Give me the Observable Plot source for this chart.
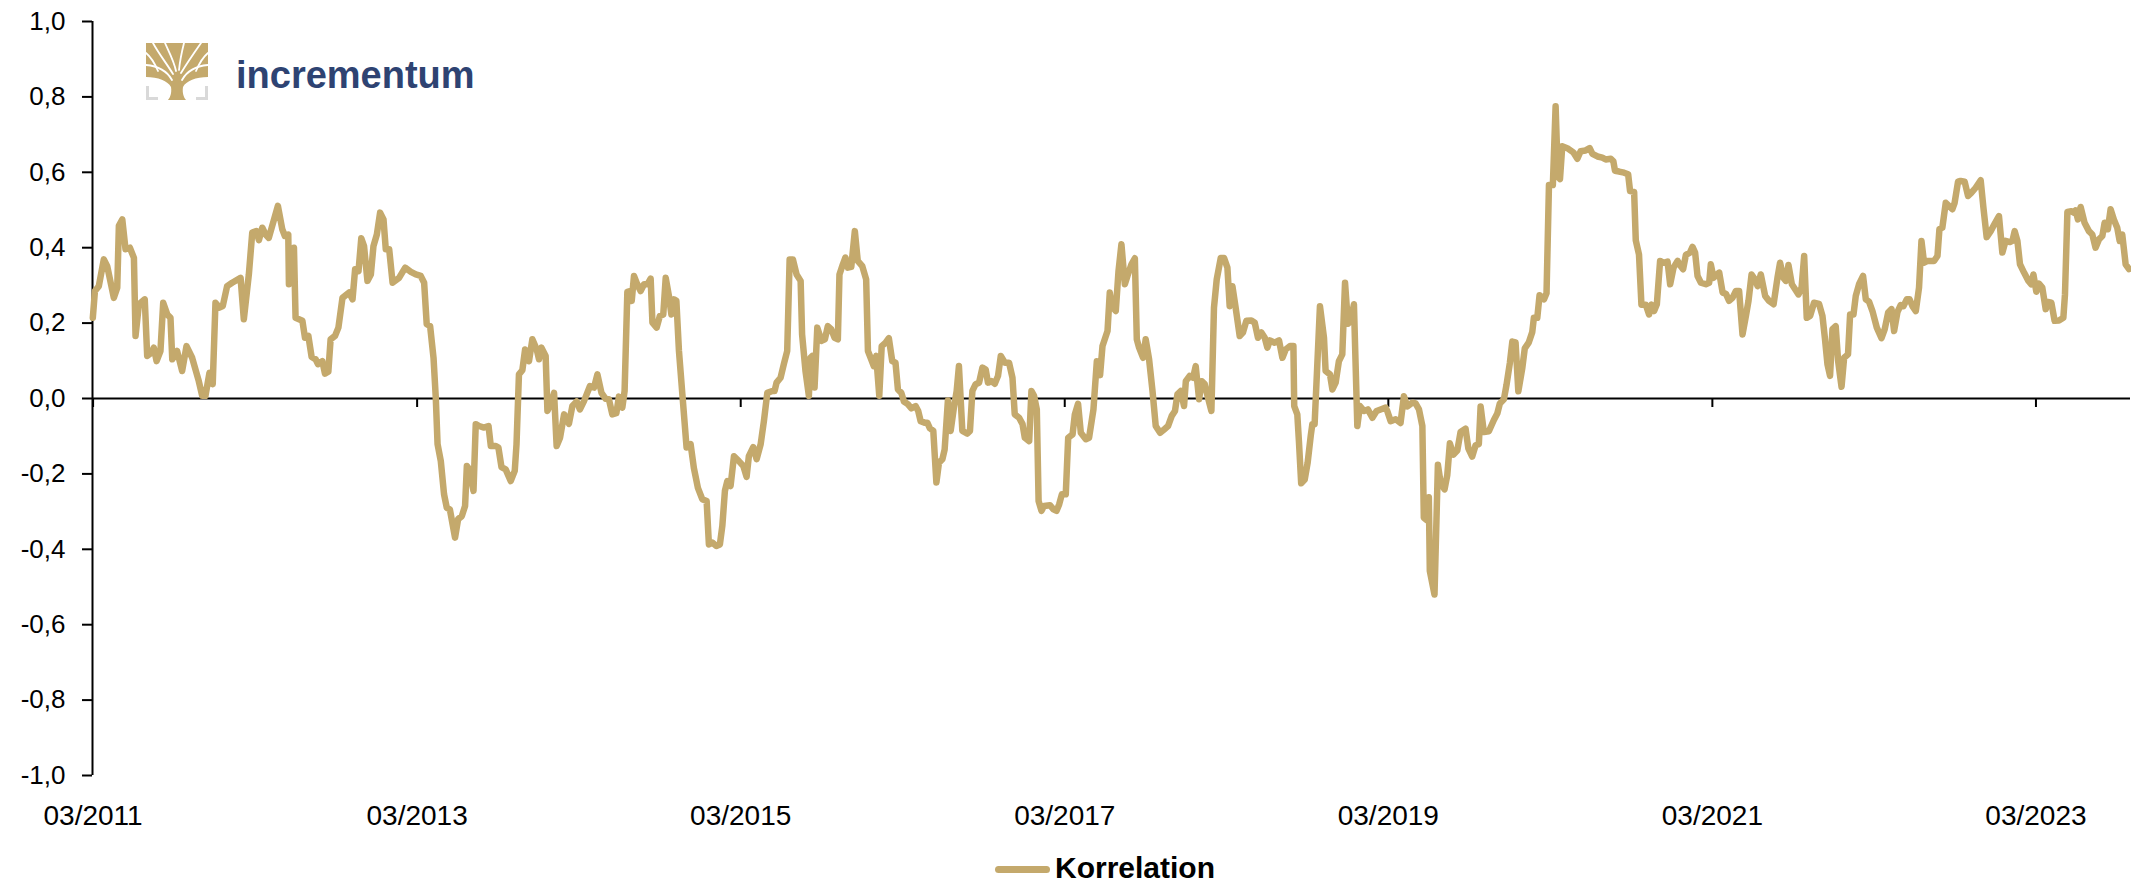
<!DOCTYPE html>
<html>
<head>
<meta charset="utf-8">
<script src="https://cdn.jsdelivr.net/npm/d3@7"></script>
<script src="https://cdn.jsdelivr.net/npm/@observablehq/plot@0.6"></script>
<style>
  body { margin: 0; background: #fff; font-family: "Liberation Sans", Arial, sans-serif; }
  #wrap { position: relative; width: 2131px; height: 884px; overflow: hidden; }
  #chart svg { display: block; }
  #legend { position: relative; width: 2131px; height: 39px; }
  #legend .swatch { position: absolute; left: 995px; top: 20.5px; width: 55px; height: 7px; border-radius: 3.5px; background: #C4A96C; }
  #legend .label { position: absolute; left: 1055px; top: 8px; font-size: 30px; line-height: 30px; font-weight: bold; color: #000; }
  #logo-icon { position: absolute; left: 146px; top: 43px; }
  #logo-text { position: absolute; left: 236px; top: 56px; font-size: 38px; line-height: 38px; font-weight: bold; color: #2E4372; }
</style>
</head>
<body>
<div id="wrap">
  <div id="chart"></div>
  <div id="legend"><div class="swatch"></div><div class="label" id="legend-label"></div></div>
  <svg id="logo-icon" width="62" height="57" viewBox="0 0 62 57">
    <path d="M0,0 H62 V34 C50,34 40,38 37,44 C36,50 38,55 40,57 H22 C24,55 26,50 25,44 C22,38 12,34 0,34 Z" fill="#C4A96C"/>
    <g fill="none" stroke="#fff" stroke-width="1.8" stroke-linecap="round">
      <path d="M26,37 C21,28 12,23 0,22"/>
      <path d="M27,31 C21,21 13,11 7,0"/>
      <path d="M30,28 C28,18 23,9 19,0"/>
      <path d="M33,27 C34,17 36,8 38,0"/>
      <path d="M35,30 C41,20 48,10 55,0"/>
      <path d="M36,37 C41,28 50,23 62,22"/>
      <path d="M12,28 C9,21 5,14 0,10"/>
      <path d="M50,28 C53,21 57,14 62,10"/>
    </g>
    <g fill="none" stroke="#D9D9D9" stroke-width="3">
      <path d="M1.5,43 V55.5 H12"/>
      <path d="M60.5,43 V55.5 H50"/>
    </g>
  </svg>
  <div id="logo-text">incrementum</div>
</div>
<script>
// ---- data ----
const seriesName = "Korrelation";
const lineColor = "#C4A96C";
const yTicks = [-1, -0.8, -0.6, -0.4, -0.2, 0, 0.2, 0.4, 0.6, 0.8, 1];
const xTickStrings = ["2011-03-01", "2013-03-01", "2015-03-01", "2017-03-01", "2019-03-01", "2021-03-01", "2023-03-01"];
const xDomainYears = [2011.158, 2023.746];

// decimal years
const years = [
2011.160,2011.173,2011.197,2011.228,2011.249,2011.290,2011.311,2011.321,2011.342,2011.362,2011.389,2011.414,2011.424,2011.445,2011.481,2011.496,2011.521,2011.537,2011.554,2011.578,
2011.595,2011.620,2011.640,2011.651,2011.681,2011.712,2011.739,2011.774,2011.815,2011.836,2011.856,2011.881,2011.901,2011.918,2011.943,2011.963,2011.990,2012.021,2012.073,2012.093,
2012.124,2012.145,2012.170,2012.186,2012.207,2012.227,2012.247,2012.303,2012.330,2012.346,2012.367,2012.371,2012.402,2012.412,2012.454,2012.470,2012.491,2012.511,2012.536,2012.550,
2012.577,2012.593,2012.614,2012.628,2012.655,2012.676,2012.701,2012.742,2012.763,2012.779,2012.800,2012.817,2012.834,2012.855,2012.876,2012.892,2012.913,2012.933,2012.954,2012.968,
2012.989,2013.010,2013.050,2013.088,2013.123,2013.154,2013.184,2013.205,2013.221,2013.242,2013.263,2013.277,2013.288,2013.308,2013.328,2013.345,2013.364,2013.396,2013.415,2013.438,
2013.458,2013.469,2013.485,2013.510,2013.524,2013.545,2013.575,2013.603,2013.617,2013.648,2013.664,2013.683,2013.709,2013.740,2013.765,2013.776,2013.791,2013.812,2013.829,2013.853,
2013.874,2013.901,2013.915,2013.930,2013.956,2013.967,2013.987,2014.008,2014.024,2014.045,2014.070,2014.100,2014.121,2014.148,2014.168,2014.193,2014.230,2014.255,2014.276,2014.301,
2014.327,2014.347,2014.368,2014.393,2014.409,2014.430,2014.444,2014.461,2014.477,2014.488,2014.502,2014.518,2014.543,2014.564,2014.585,2014.605,2014.616,2014.642,2014.662,2014.683,
2014.698,2014.718,2014.733,2014.749,2014.764,2014.780,2014.801,2014.827,2014.852,2014.872,2014.897,2014.924,2014.951,2014.965,2014.986,2015.011,2015.033,2015.048,2015.064,2015.079,
2015.099,2015.120,2015.150,2015.178,2015.198,2015.212,2015.239,2015.260,2015.285,2015.305,2015.326,2015.357,2015.371,2015.383,2015.408,2015.428,2015.449,2015.464,2015.484,2015.507,
2015.532,2015.541,2015.562,2015.583,2015.593,2015.604,2015.618,2015.635,2015.661,2015.682,2015.700,2015.721,2015.742,2015.762,2015.772,2015.793,2015.809,2015.824,2015.845,2015.867,
2015.885,2015.913,2015.937,2015.948,2015.968,2015.984,2015.999,2016.018,2016.033,2016.057,2016.077,2016.098,2016.118,2016.133,2016.154,2016.170,2016.194,2016.215,2016.242,2016.258,
2016.273,2016.297,2016.314,2016.330,2016.351,2016.370,2016.386,2016.407,2016.421,2016.441,2016.458,2016.478,2016.495,2016.509,2016.530,2016.561,2016.577,2016.592,2016.612,2016.633,
2016.654,2016.674,2016.688,2016.709,2016.730,2016.750,2016.767,2016.792,2016.818,2016.839,2016.853,2016.880,2016.901,2016.915,2016.942,2016.956,2016.972,2016.989,2017.000,2017.018,
2017.034,2017.070,2017.092,2017.111,2017.127,2017.144,2017.168,2017.183,2017.210,2017.224,2017.244,2017.261,2017.292,2017.312,2017.339,2017.360,2017.380,2017.395,2017.426,2017.440,
2017.452,2017.477,2017.494,2017.512,2017.533,2017.549,2017.574,2017.595,2017.607,2017.621,2017.646,2017.662,2017.683,2017.704,2017.724,2017.751,2017.776,2017.800,2017.823,2017.843,
2017.858,2017.879,2017.899,2017.910,2017.934,2017.955,2017.971,2017.992,2018.008,2018.027,2018.047,2018.068,2018.084,2018.101,2018.126,2018.146,2018.167,2018.181,2018.198,2018.218,
2018.243,2018.263,2018.284,2018.315,2018.336,2018.356,2018.377,2018.398,2018.414,2018.430,2018.459,2018.486,2018.507,2018.527,2018.554,2018.575,2018.580,2018.599,2018.609,2018.623,
2018.645,2018.663,2018.682,2018.692,2018.706,2018.739,2018.764,2018.774,2018.801,2018.816,2018.836,2018.856,2018.877,2018.894,2018.912,2018.929,2018.949,2018.970,2018.986,2019.011,
2019.035,2019.063,2019.089,2019.114,2019.145,2019.155,2019.176,2019.207,2019.237,2019.258,2019.279,2019.310,2019.330,2019.351,2019.372,2019.381,2019.398,2019.412,2019.418,2019.447,
2019.468,2019.485,2019.509,2019.526,2019.542,2019.563,2019.588,2019.608,2019.639,2019.656,2019.680,2019.701,2019.721,2019.732,2019.752,2019.783,2019.814,2019.835,2019.851,2019.876,
2019.892,2019.913,2019.928,2019.948,2019.965,2019.989,2020.005,2020.030,2020.051,2020.061,2020.082,2020.096,2020.123,2020.139,2020.154,2020.178,2020.195,2020.209,2020.222,2020.236,
2020.267,2020.304,2020.329,2020.349,2020.380,2020.405,2020.422,2020.453,2020.483,2020.504,2020.535,2020.551,2020.561,2020.586,2020.617,2020.642,2020.654,2020.679,2020.689,2020.709,
2020.724,2020.751,2020.771,2020.786,2020.802,2020.819,2020.839,2020.860,2020.885,2020.901,2020.922,2020.947,2020.967,2020.981,2020.998,2021.023,2021.039,2021.055,2021.070,2021.091,
2021.121,2021.142,2021.152,2021.169,2021.189,2021.204,2021.225,2021.245,2021.265,2021.286,2021.307,2021.327,2021.348,2021.369,2021.385,2021.404,2021.424,2021.441,2021.461,2021.488,
2021.512,2021.540,2021.564,2021.580,2021.601,2021.616,2021.632,2021.653,2021.673,2021.694,2021.713,2021.729,2021.745,2021.766,2021.790,2021.821,2021.842,2021.857,2021.873,2021.889,
2021.904,2021.924,2021.939,2021.960,2021.976,2022.000,2022.013,2022.034,2022.048,2022.068,2022.093,2022.110,2022.130,2022.151,2022.178,2022.207,2022.227,2022.248,2022.269,2022.285,
2022.306,2022.326,2022.343,2022.363,2022.381,2022.398,2022.419,2022.439,2022.454,2022.470,2022.491,2022.516,2022.532,2022.553,2022.565,2022.583,2022.604,2022.624,2022.645,2022.659,
2022.680,2022.696,2022.721,2022.742,2022.763,2022.789,2022.820,2022.837,2022.857,2022.882,2022.907,2022.933,2022.954,2022.974,2023.001,2023.016,2023.030,2023.047,2023.063,2023.088,
2023.115,2023.133,2023.146,2023.164,2023.180,2023.201,2023.222,2023.236,2023.257,2023.277,2023.304,2023.331,2023.341,2023.356,2023.380,2023.396,2023.407,2023.421,2023.438,2023.462,
2023.489,2023.510,2023.530,2023.551,2023.572,2023.586,2023.606,2023.623,2023.643,2023.664,2023.679,2023.695,2023.716,2023.737
];

const correlation = [
0.214,0.285,0.298,0.369,0.351,0.267,0.294,0.458,0.475,0.396,0.400,0.373,0.166,0.250,0.263,0.113,0.121,0.135,0.099,0.126,
0.254,0.223,0.214,0.104,0.126,0.073,0.139,0.108,0.046,0.007,0.007,0.068,0.038,0.254,0.241,0.245,0.298,0.307,0.320,0.210,
0.329,0.440,0.444,0.420,0.453,0.435,0.426,0.511,0.449,0.431,0.435,0.303,0.400,0.214,0.206,0.161,0.166,0.110,0.104,0.091,
0.099,0.066,0.071,0.157,0.166,0.188,0.267,0.281,0.263,0.343,0.338,0.425,0.404,0.312,0.329,0.404,0.435,0.493,0.475,0.396,
0.396,0.307,0.320,0.347,0.336,0.329,0.325,0.307,0.197,0.192,0.108,0.002,-0.121,-0.166,-0.254,-0.290,-0.294,-0.369,-0.320,-0.312,
-0.285,-0.179,-0.188,-0.245,-0.068,-0.073,-0.077,-0.073,-0.126,-0.126,-0.130,-0.182,-0.188,-0.219,-0.192,-0.121,0.064,0.075,0.130,0.099,
0.157,0.130,0.104,0.135,0.113,-0.033,-0.015,0.015,-0.126,-0.104,-0.042,-0.067,-0.020,-0.008,-0.029,-0.007,0.033,0.029,0.064,0.015,
-0.001,-0.002,-0.042,-0.039,0.005,-0.024,0.020,0.283,0.285,0.259,0.325,0.307,0.285,0.303,0.303,0.318,0.201,0.188,0.219,0.223,
0.320,0.272,0.223,0.263,0.259,0.126,0.011,-0.130,-0.121,-0.184,-0.237,-0.267,-0.272,-0.387,-0.382,-0.391,-0.387,-0.338,-0.245,-0.219,
-0.232,-0.153,-0.166,-0.179,-0.208,-0.153,-0.129,-0.161,-0.121,-0.060,0.015,0.020,0.020,0.042,0.055,0.091,0.126,0.369,0.369,0.329,
0.312,0.170,0.073,0.007,0.108,0.113,0.029,0.188,0.153,0.157,0.192,0.184,0.161,0.157,0.329,0.356,0.374,0.347,0.349,0.444,
0.365,0.351,0.316,0.126,0.104,0.086,0.113,0.007,0.139,0.148,0.160,0.099,0.095,0.024,0.015,-0.008,-0.015,-0.026,-0.020,-0.033,
-0.060,-0.064,-0.064,-0.079,-0.086,-0.223,-0.170,-0.161,-0.135,-0.005,-0.086,-0.024,0.020,0.086,-0.086,-0.093,-0.086,0.020,0.038,0.042,
0.082,0.077,0.042,0.046,0.039,0.060,0.113,0.095,0.095,0.055,-0.042,-0.051,-0.068,-0.104,-0.113,0.020,0.007,-0.029,-0.272,-0.298,
-0.285,-0.283,-0.294,-0.298,-0.281,-0.254,-0.254,-0.104,-0.095,-0.042,-0.014,-0.091,-0.108,-0.104,-0.029,0.099,0.062,0.139,0.179,0.281,
0.245,0.232,0.338,0.409,0.303,0.325,0.356,0.372,0.157,0.135,0.108,0.157,0.104,0.020,-0.073,-0.091,-0.082,-0.073,-0.046,-0.033,
0.011,0.020,-0.020,0.046,0.060,0.055,0.086,-0.002,0.046,0.038,0.002,-0.033,0.241,0.316,0.373,0.373,0.347,0.245,0.298,0.241,
0.166,0.175,0.206,0.207,0.201,0.161,0.175,0.161,0.135,0.154,0.148,0.154,0.108,0.130,0.139,0.139,-0.020,-0.042,-0.113,-0.225,
-0.215,-0.170,-0.099,-0.068,-0.068,0.245,0.161,0.073,0.064,0.024,0.042,0.099,0.117,0.307,0.198,0.206,0.250,-0.073,-0.020,-0.033,
-0.029,-0.051,-0.033,-0.029,-0.024,-0.033,-0.060,-0.055,-0.065,0.006,-0.021,-0.011,-0.013,-0.029,-0.073,-0.316,-0.322,-0.262,-0.457,-0.520,
-0.176,-0.224,-0.241,-0.203,-0.119,-0.149,-0.138,-0.089,-0.080,-0.132,-0.154,-0.124,-0.121,-0.021,-0.089,-0.087,-0.057,-0.040,-0.013,-0.002,
0.036,0.095,0.151,0.149,0.019,0.079,0.133,0.149,0.176,0.214,0.214,0.274,0.263,0.279,0.566,0.566,0.775,0.588,0.582,0.669,
0.664,0.653,0.636,0.656,0.658,0.664,0.649,0.642,0.639,0.634,0.636,0.629,0.604,0.602,0.599,0.595,0.550,0.548,0.420,0.382,
0.249,0.249,0.223,0.249,0.232,0.250,0.365,0.360,0.363,0.303,0.347,0.365,0.351,0.343,0.381,0.387,0.402,0.387,0.325,0.307,
0.303,0.307,0.356,0.320,0.329,0.334,0.281,0.278,0.259,0.267,0.285,0.285,0.170,0.219,0.259,0.329,0.316,0.298,0.329,0.272,
0.259,0.250,0.320,0.360,0.320,0.312,0.354,0.303,0.290,0.276,0.294,0.378,0.214,0.219,0.254,0.251,0.219,0.161,0.091,0.060,
0.184,0.192,0.099,0.031,0.108,0.117,0.223,0.223,0.272,0.303,0.325,0.263,0.257,0.232,0.188,0.160,0.184,0.228,0.237,0.179,
0.230,0.248,0.245,0.263,0.263,0.245,0.232,0.294,0.418,0.360,0.365,0.365,0.365,0.378,0.449,0.453,0.519,0.511,0.502,0.519,
0.575,0.577,0.575,0.537,0.546,0.559,0.579,0.506,0.428,0.444,0.464,0.484,0.387,0.418,0.415,0.418,0.444,0.418,0.356,0.334,
0.312,0.303,0.329,0.283,0.305,0.294,0.237,0.256,0.254,0.206,0.207,0.214,0.276,0.495,0.497,0.493,0.499,0.475,0.508,0.466,
0.444,0.435,0.400,0.422,0.431,0.466,0.449,0.502,0.475,0.453,0.418,0.435,0.356,0.343
];

// ---- build ----
function toDate(y) {
  const yr = Math.floor(y);
  const start = Date.UTC(yr, 0, 1), end = Date.UTC(yr + 1, 0, 1);
  return new Date(start + (y - yr) * (end - start));
}
const n = Math.min(years.length, correlation.length);
const data = [];
for (let i = 0; i < n; i++) data.push({date: toDate(years[i]), value: correlation[i]});
const xTicks = xTickStrings.map(s => new Date(s + "T00:00:00Z"));
const xDomain = xDomainYears.map(toDate);
const fmtY = d => d.toFixed(1).replace(".", ",");
const fmtX = d3.utcFormat("%m/%Y");

const chart = Plot.plot({
  width: 2131,
  height: 845,
  marginLeft: 92,
  marginRight: 1,
  marginTop: 21,
  marginBottom: 70,
  style: {fontFamily: "'Liberation Sans', Arial, sans-serif", color: "#000", background: "#fff"},
  x: {type: "utc", domain: xDomain, label: null},
  y: {domain: [-1, 1], label: null},
  marks: [
    Plot.axisY({ticks: yTicks, tickFormat: fmtY, tickSize: 10, tickPadding: 17, fontSize: 26, strokeWidth: 2, label: null}),
    Plot.axisX({ticks: xTicks, tickFormat: fmtX, tickSize: 0, tickPadding: 30, fontSize: 28, label: null}),
    Plot.ruleY([0], {stroke: "#000", strokeWidth: 2.2}),
    Plot.ruleX([xDomain[0]], {y1: -1, y2: 1, stroke: "#000", strokeWidth: 2}),
    Plot.ruleX(xTicks, {x: d => d, y1: 0, y2: 0, insetBottom: -9, stroke: "#000", strokeWidth: 2}),
    Plot.lineY(data, {x: "date", y: "value", stroke: lineColor, strokeWidth: 6.5, strokeLinejoin: "round", strokeLinecap: "round"})
  ]
});
document.getElementById("chart").appendChild(chart);
document.getElementById("legend-label").textContent = seriesName;
</script>
</body>
</html>
